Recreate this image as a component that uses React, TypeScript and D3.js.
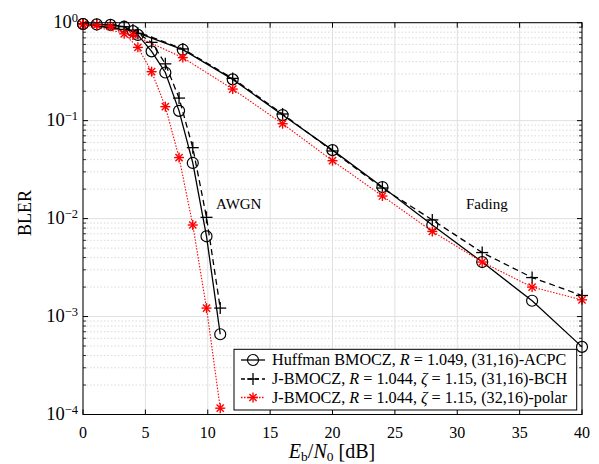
import React from "react";
import * as d3 from "d3";

const awgnX = [0, 1.1, 2.2, 3.3, 4.4, 5.5, 6.6, 7.7, 8.8, 9.9, 11];
const huffAwgn = [0.97, 0.96, 0.95, 0.91, 0.75, 0.51, 0.31, 0.126, 0.037, 0.0066, 0.00066];
const bchAwgn = [0.97, 0.96, 0.95, 0.91, 0.78, 0.63, 0.38, 0.17, 0.053, 0.0103, 0.00122];
const polarAwgn = [0.96, 0.95, 0.92, 0.77, 0.56, 0.316, 0.139, 0.042, 0.0086, 0.00122, 0.000116];

const fadX = [0, 4, 8, 12, 16, 20, 24, 28, 32, 36, 40];
const huffFad = [0.97, 0.82, 0.53, 0.264, 0.114, 0.05, 0.021, 0.0086, 0.0036, 0.00145, 0.00049];
const bchFad = [0.97, 0.84, 0.54, 0.27, 0.117, 0.049, 0.0205, 0.0097, 0.0045, 0.0025, 0.00164];
const polarFad = [0.96, 0.75, 0.44, 0.21, 0.093, 0.039, 0.017, 0.0074, 0.0036, 0.002, 0.00148];

const xTicks = [0, 5, 10, 15, 20, 25, 30, 35, 40];
const yDecades = [0, -1, -2, -3, -4];

const W = 599, H = 464;
const L = 83, R = 582, T = 22.7, B = 414.5;
const FONT = "Liberation Serif, DejaVu Serif, serif";

function Marker({ type, x, y }: { type: string; x: number; y: number }) {
  if (type === "o") return <circle cx={x} cy={y} r={5.5} fill="none" stroke="#000" strokeWidth={1.2} />;
  if (type === "+")
    return (
      <g stroke="#000" strokeWidth={1.3}>
        <line x1={x - 6} x2={x + 6} y1={y} y2={y} />
        <line x1={x} x2={x} y1={y - 6} y2={y + 6} />
      </g>
    );
  const s = 5;
  const d = s * 0.72;
  return (
    <g stroke="#ff0000" strokeWidth={1.4}>
      <line x1={x - s} x2={x + s} y1={y} y2={y} />
      <line x1={x} x2={x} y1={y - s} y2={y + s} />
      <line x1={x - d} x2={x + d} y1={y - d} y2={y + d} />
      <line x1={x - d} x2={x + d} y1={y + d} y2={y - d} />
    </g>
  );
}

export default function App() {
  const xs = d3.scaleLinear().domain([0, 40]).range([L, R]);
  const ys = d3.scaleLog().domain([1e-4, 1]).range([B, T]);
  const line = d3
    .line<[number, number]>()
    .x((d) => xs(d[0]))
    .y((d) => ys(d[1]));

  const series = [
    { xsArr: awgnX, v: huffAwgn, m: "o", stroke: "#000", dash: undefined, w: 1.3 },
    { xsArr: fadX, v: huffFad, m: "o", stroke: "#000", dash: undefined, w: 1.3 },
    { xsArr: awgnX, v: bchAwgn, m: "+", stroke: "#000", dash: "6,4", w: 1.3 },
    { xsArr: fadX, v: bchFad, m: "+", stroke: "#000", dash: "6,4", w: 1.3 },
    { xsArr: awgnX, v: polarAwgn, m: "*", stroke: "#ff0000", dash: "1.5,1.5", w: 1.1 },
    { xsArr: fadX, v: polarFad, m: "*", stroke: "#ff0000", dash: "1.5,1.5", w: 1.1 },
  ];

  const minorVals: number[] = [];
  for (let e = -4; e < 0; e++) for (let k = 2; k <= 9; k++) minorVals.push(k * Math.pow(10, e));

  const legendItems = [
    { m: "o", stroke: "#000", dash: undefined, text: ["Huffman BMOCZ, ", "R", " = 1.049, (31,16)-ACPC"] },
    { m: "+", stroke: "#000", dash: "4,3", text: ["J-BMOCZ, ", "R", " = 1.044, ", "ζ", " = 1.15, (31,16)-BCH"] },
    { m: "*", stroke: "#ff0000", dash: "1.5,1.5", text: ["J-BMOCZ, ", "R", " = 1.044, ", "ζ", " = 1.15, (32,16)-polar"] },
  ];
  const lgX = 234, lgY = 349.3, lgW = 342.7, lgH = 60.7;
  const rowY = [360, 379, 397.5];

  return (
    <svg width={W} height={H} style={{ position: "absolute", left: 0, top: 0, background: "#fff", fontFamily: FONT }}>
      <rect x={0} y={0} width={W} height={H} fill="#fff" />
      {/* grid */}
      {minorVals.map((v, i) => (
        <line key={"mg" + i} x1={L} x2={R} y1={ys(v)} y2={ys(v)} stroke="#d0d0d0" strokeWidth={0.8} strokeDasharray="1.5,2" />
      ))}
      {yDecades.map((e) => (
        <line key={"yg" + e} x1={L} x2={R} y1={ys(Math.pow(10, e))} y2={ys(Math.pow(10, e))} stroke="#e0e0e0" strokeWidth={1} />
      ))}
      {xTicks.map((t) => (
        <line key={"xg" + t} x1={xs(t)} x2={xs(t)} y1={T} y2={B} stroke="#e0e0e0" strokeWidth={1} />
      ))}
      {/* ticks */}
      {xTicks.map((t) => (
        <g key={"xt" + t} stroke="#000" strokeWidth={1}>
          <line x1={xs(t)} x2={xs(t)} y1={B} y2={B - 5} />
          <line x1={xs(t)} x2={xs(t)} y1={T} y2={T + 5} />
        </g>
      ))}
      {yDecades.map((e) => (
        <g key={"yt" + e} stroke="#000" strokeWidth={1}>
          <line x1={L} x2={L + 5} y1={ys(Math.pow(10, e))} y2={ys(Math.pow(10, e))} />
          <line x1={R} x2={R - 5} y1={ys(Math.pow(10, e))} y2={ys(Math.pow(10, e))} />
        </g>
      ))}
      {minorVals.map((v, i) => (
        <g key={"mt" + i} stroke="#000" strokeWidth={0.8}>
          <line x1={L} x2={L + 3} y1={ys(v)} y2={ys(v)} />
          <line x1={R} x2={R - 3} y1={ys(v)} y2={ys(v)} />
        </g>
      ))}
      {/* series */}
      {series.map((s, i) => {
        const pts = s.xsArr.map((x, j) => [x, s.v[j]] as [number, number]);
        return (
          <g key={"s" + i}>
            <path d={line(pts) || ""} fill="none" stroke={s.stroke} strokeWidth={s.w} strokeDasharray={s.dash} />
            {pts.map((p, j) => (
              <Marker key={j} type={s.m} x={xs(p[0])} y={ys(p[1])} />
            ))}
          </g>
        );
      })}
      {/* box */}
      <rect x={L} y={T} width={R - L} height={B - T} fill="none" stroke="#000" strokeWidth={1} />
      {/* tick labels */}
      {xTicks.map((t) => (
        <text key={"xl" + t} x={xs(t)} y={437.7} textAnchor="middle" fontSize={16} fontFamily={FONT}>
          {t}
        </text>
      ))}
      {yDecades.map((e) => (
        <text key={"yl" + e} x={L - 5} y={ys(Math.pow(10, e)) + 5} textAnchor="end" fontSize={18.5} fontFamily={FONT}>
          10
          <tspan dy={-6} fontSize={12.5}>
            {e === 0 ? "0" : "−" + -e}
          </tspan>
        </text>
      ))}
      {/* annotations */}
      <text x={216} y={209} fontSize={15} fontFamily={FONT}>AWGN</text>
      <text x={466} y={209} fontSize={15} fontFamily={FONT}>Fading</text>
      {/* axis labels */}
      <text transform={`translate(31,213) rotate(-90)`} textAnchor="middle" fontSize={18} fontFamily={FONT}>
        BLER
      </text>
      <text x={332} y={458} textAnchor="middle" fontSize={20} fontFamily={FONT}>
        <tspan fontStyle="italic">E</tspan>
        <tspan fontSize={13.5} dy={3}>b</tspan>
        <tspan dy={-3}>/</tspan>
        <tspan fontStyle="italic">N</tspan>
        <tspan fontSize={13.5} dy={3}>0</tspan>
        <tspan dy={-3}> [dB]</tspan>
      </text>
      {/* legend */}
      <rect x={lgX} y={lgY} width={lgW} height={lgH} fill="#fff" stroke="#000" strokeWidth={1} />
      {legendItems.map((it, i) => (
        <g key={"lg" + i}>
          <line x1={241} x2={265} y1={rowY[i]} y2={rowY[i]} stroke={it.stroke} strokeWidth={1.3} strokeDasharray={it.dash} />
          <Marker type={it.m} x={253} y={rowY[i]} />
          <text x={272} y={rowY[i] + 5} fontSize={16.2} fontFamily={FONT}>
            {it.text.map((t, k) => (
              <tspan key={k} fontStyle={t === "R" || t === "ζ" ? "italic" : undefined}>
                {t}
              </tspan>
            ))}
          </text>
        </g>
      ))}
    </svg>
  );
}
